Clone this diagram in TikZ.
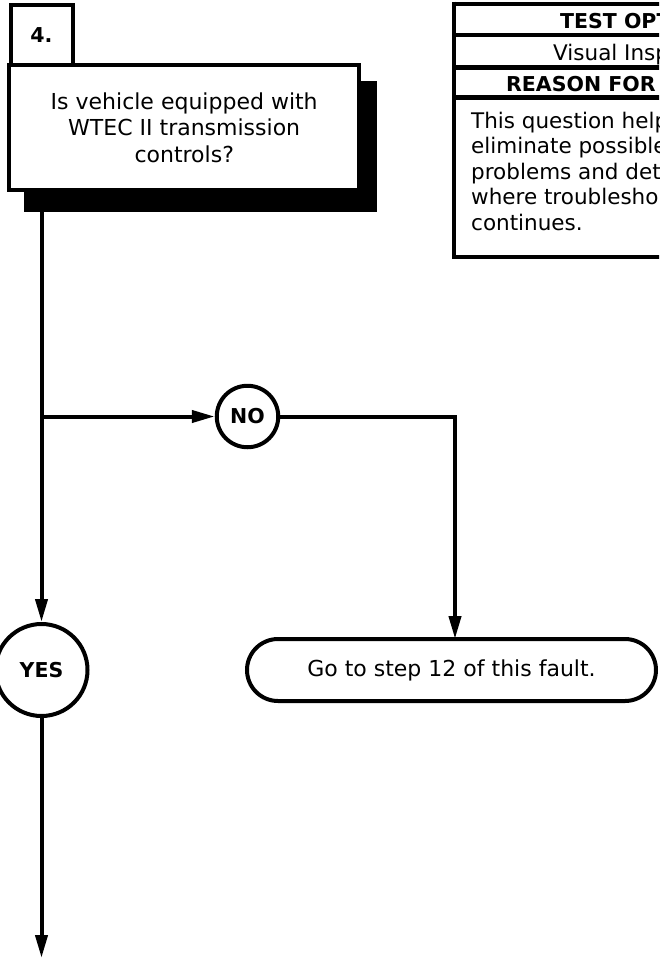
\documentclass[tikz,border=0pt]{standalone}
\usepackage{fontspec}
\setmainfont{DejaVu Sans}
\usetikzlibrary{arrows.meta}
\begin{document}
\begin{tikzpicture}[x=1pt,y=-1pt,
  txt/.style={font=\fontsize{21.5}{25.5}\selectfont},
  boldtxt/.style={font=\fontsize{20.5}{25}\selectfont\bfseries},
  frame/.style={draw=black, line width=4pt, fill=white, inner sep=0pt},
  conn/.style={line width=4pt, line join=miter},
  arr/.style={-{Triangle[length=23pt,width=12pt]}},
  tline/.style={line width=4.3pt},
  cell/.style={anchor=base west, inner sep=0pt}]
\useasboundingbox (0,0) rectangle (659,959);
\fill[white] (0,0) rectangle (659,959);
\clip (0,0) rectangle (659,959);

% shadow and question box
\node[fill=black, inner sep=0pt, minimum width=353pt, minimum height=131pt] (shadow) at (200.5,146.5) {};
\node[frame, minimum width=62pt, minimum height=61pt,
      font=\fontsize{20.5}{24}\selectfont\bfseries] (num) at (41.5,35.5) {4.};
\node[frame, minimum width=349.7pt, minimum height=124.7pt, align=center,
      font=\fontsize{22}{26.5}\selectfont] (question) at (184.2,127.7)
  {Is vehicle equipped with\\WTEC II transmission\\controls?};

% decision circles and action box
\node[frame, circle, minimum size=61.5pt, boldtxt] (no) at (247.5,416.5) {NO};
\node[frame, circle, minimum size=92pt, boldtxt] (yes) at (41.5,670) {YES};
\node[frame, rectangle, rounded corners=31pt, minimum width=409pt, minimum height=62pt,
      font=\fontsize{22}{26}\selectfont] (goto) at (451.5,670) {Go to step 12 of this fault.};

% connectors
\coordinate (top) at (num.center |- shadow.south);
\coordinate (br) at (41.5,416.5);
\coordinate (corner) at (455,416.5);
\coordinate (gotoin) at (455,639);
\coordinate (bottom) at (41.5,958);
\draw[conn, arr] (top) -- (yes.north);
\draw[conn, arr] (br) -- (no.west);
\draw[conn, arr] (no.east) -- (corner) -- (gotoin);
\draw[conn, arr] (yes.south) -- (bottom);

% table (cropped at right edge)
\draw[tline] (454,1.5) -- (454,259.2);
\draw[tline] (452,3.7) -- (700,3.7);
\draw[tline] (452,35) -- (700,35);
\draw[tline] (452,67.5) -- (700,67.5);
\draw[tline] (452,97.5) -- (700,97.5);
\draw[tline] (452,257) -- (700,257);
\node[cell, boldtxt] (t1) at (560,28) {TEST OPTI};
\node[cell, txt] (t2) at (553,60) {Visual Insp};
\node[cell, boldtxt] (t3) at (506,91.7) {REASON FOR};
\node[cell, txt] (b1) at (471,128) {This question help};
\node[cell, txt] (b2) at (471,153.5) {eliminate possible};
\node[cell, txt] (b3) at (471,179) {problems and dete};
\node[cell, txt] (b4) at (471,204.5) {where troublesho};
\node[cell, txt] (b5) at (471,230) {continues.};
\end{tikzpicture}
\end{document}
